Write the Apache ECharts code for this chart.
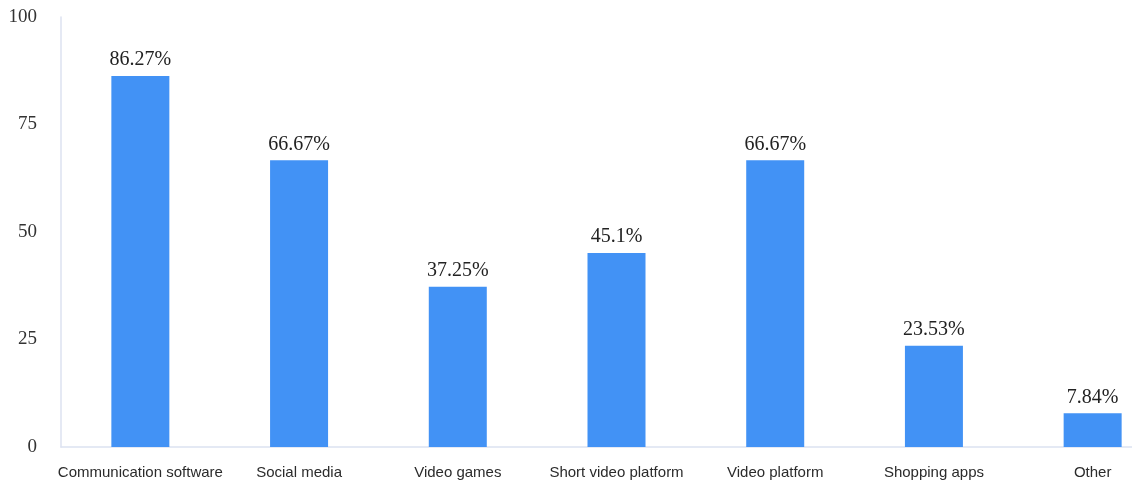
<!DOCTYPE html>
<html>
<head>
<meta charset="utf-8">
<script src="https://cdn.jsdelivr.net/npm/echarts@6/dist/echarts.min.js"></script>
<style>
  html, body { margin: 0; padding: 0; background: #fff; }
  #chart { width: 1132px; height: 483px; }
</style>
</head>
<body>
<div id="chart"></div>
<script>
// Share of respondents by app type (%)
const categories = [
  'Communication software', 'Social media', 'Video games',
  'Short video platform', 'Video platform', 'Shopping apps', 'Other'
];
const shares = [86.27, 66.67, 37.25, 45.1, 66.67, 23.53, 7.84];
const yTicks = [0, 25, 50, 75, 100];

const chart = echarts.init(document.getElementById('chart'));
chart.setOption({
  animation: false,
  // plot area runs past the right edge of the canvas
  grid: { left: 61, top: 17, bottom: 36, width: 1111, outerBoundsMode: 'none', containLabel: false },
  xAxis: {
    type: 'category',
    data: categories,
    axisLine: { lineStyle: { color: '#dce2f1', width: 1.5 } },
    axisTick: { show: false },
    axisLabel: {
      margin: 18,
      color: '#2b2b2b',
      fontFamily: 'Liberation Sans, Arial, sans-serif',
      fontSize: 15,
      interval: 0
    }
  },
  yAxis: {
    type: 'value',
    min: yTicks[0],
    max: yTicks[yTicks.length - 1],
    interval: 25,
    axisLine: { show: true, lineStyle: { color: '#dce2f1', width: 1.5 } },
    axisTick: { show: false },
    splitLine: { show: false },
    axisLabel: {
      margin: 24,
      padding: [5, 0, 0, 0],
      color: '#333',
      fontFamily: 'Liberation Serif, Times New Roman, serif',
      fontSize: 19
    }
  },
  series: [{
    type: 'bar',
    data: shares,
    barWidth: 58,
    itemStyle: { color: '#4292f5' },
    label: {
      show: true,
      position: 'top',
      distance: 6,
      formatter: p => p.value + '%',
      color: '#222',
      fontFamily: 'Liberation Serif, Times New Roman, serif',
      fontSize: 20
    }
  }]
});
</script>
</body>
</html>
